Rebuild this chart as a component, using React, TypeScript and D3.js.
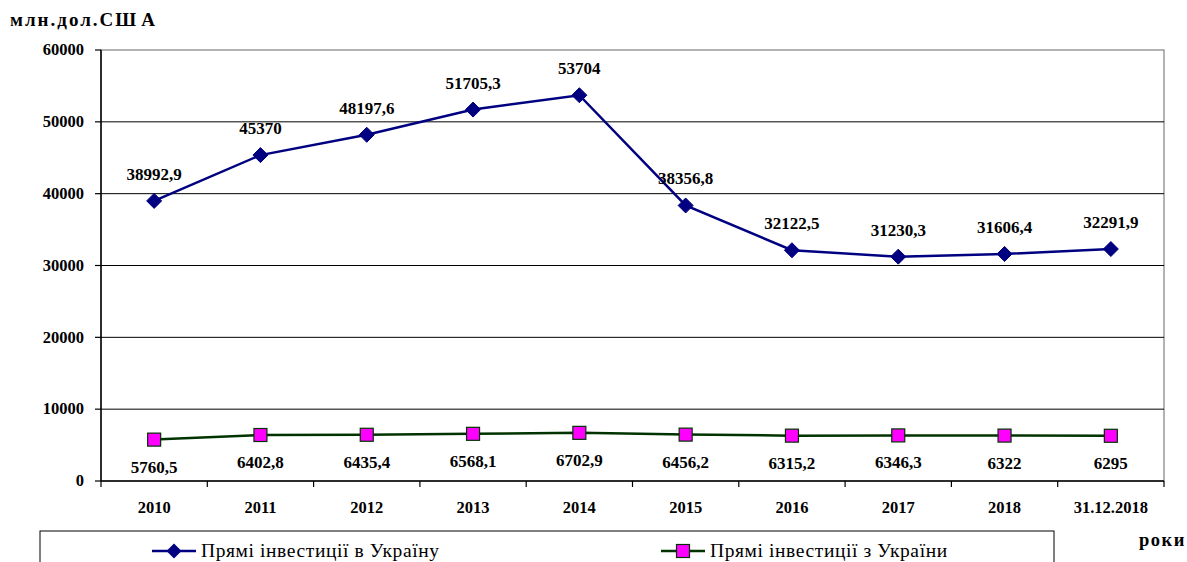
import React from "react";
import * as d3 from "d3";

const categories = ["2010", "2011", "2012", "2013", "2014", "2015", "2016", "2017", "2018", "31.12.2018"];
const intoUkraine = [38992.9, 45370, 48197.6, 51705.3, 53704, 38356.8, 32122.5, 31230.3, 31606.4, 32291.9];
const fromUkraine = [5760.5, 6402.8, 6435.4, 6568.1, 6702.9, 6456.2, 6315.2, 6346.3, 6322, 6295];
const intoLabels = ["38992,9", "45370", "48197,6", "51705,3", "53704", "38356,8", "32122,5", "31230,3", "31606,4", "32291,9"];
const fromLabels = ["5760,5", "6402,8", "6435,4", "6568,1", "6702,9", "6456,2", "6315,2", "6346,3", "6322", "6295"];
const yTicks = [0, 10000, 20000, 30000, 40000, 50000, 60000];
const seriesNames = ["Прямі інвестиції в Україну", "Прямі інвестиції з України"];

const W = 1187, H = 562;
const left = 101, right = 1164, top = 50, bottom = 481;
const font = "Liberation Serif";

export default function App() {
  const x = d3.scaleBand<string>().domain(categories).range([left, right]);
  const y = d3.scaleLinear().domain([0, 60000]).range([bottom, top]);
  const cx = (c: string) => (x(c) as number) + x.bandwidth() / 2;
  const line = d3.line<number>().x((_, i) => cx(categories[i])).y((d) => y(d));
  const diamond = (px: number, py: number, r: number) =>
    `M${px},${py - r}L${px + r},${py}L${px},${py + r}L${px - r},${py}Z`;
  const blue = "#000080";
  const green = "#003300";
  const mag = "#FF00FF";
  const boundaries = d3.range(categories.length + 1).map((i) => left + i * x.bandwidth());
  const ts = { fontFamily: font };

  return (
    <svg width={W} height={H} style={{ position: "absolute", left: 0, top: 0 }}>
      <rect x={0} y={0} width={W} height={H} fill="#fff" />
      <rect x={left} y={top} width={right - left} height={bottom - top} fill="none" stroke="#808080" strokeWidth={1.2} />
      {yTicks.filter((t) => t > 0 && t < 60000).map((t) => (
        <line key={t} x1={left} x2={right} y1={y(t)} y2={y(t)} stroke="#000" strokeWidth={1} />
      ))}
      <line x1={left} x2={left} y1={top} y2={bottom} stroke="#000" strokeWidth={1.5} />
      <line x1={left} x2={right} y1={bottom} y2={bottom} stroke="#000" strokeWidth={1.5} />
      {yTicks.map((t) => (
        <g key={t}>
          <line x1={left - 6} x2={left} y1={y(t)} y2={y(t)} stroke="#000" strokeWidth={1.2} />
          <text style={ts} x={left - 17} y={y(t)} dy="0.32em" textAnchor="end" fontSize={16.5} fontWeight="bold">{t}</text>
        </g>
      ))}
      {boundaries.map((b, i) => (
        <line key={i} x1={b} x2={b} y1={bottom} y2={bottom + 6} stroke="#000" strokeWidth={1.2} />
      ))}
      {categories.map((c) => (
        <text style={ts} key={c} x={cx(c)} y={513} textAnchor="middle" fontSize={16.5} fontWeight="bold">{c}</text>
      ))}
      <path d={line(intoUkraine) as string} fill="none" stroke={blue} strokeWidth={2.5} />
      <path d={line(fromUkraine) as string} fill="none" stroke={green} strokeWidth={2.5} />
      {intoUkraine.map((v, i) => (
        <path key={i} d={diamond(cx(categories[i]), y(v), 7.5)} fill={blue} stroke={blue} strokeWidth={1} />
      ))}
      {fromUkraine.map((v, i) => (
        <rect key={i} x={cx(categories[i]) - 6.5} y={y(v) - 6.5} width={13} height={13} fill={mag} stroke={green} strokeWidth={1.2} />
      ))}
      {intoUkraine.map((v, i) => (
        <text style={ts} key={i} x={cx(categories[i])} y={y(v) - 21} textAnchor="middle" fontSize={17} fontWeight="bold">{intoLabels[i]}</text>
      ))}
      {fromUkraine.map((v, i) => (
        <text style={ts} key={i} x={cx(categories[i])} y={y(v) + 33} textAnchor="middle" fontSize={17} fontWeight="bold">{fromLabels[i]}</text>
      ))}
      <text style={ts} x={10} y={26} fontSize={19} fontWeight="bold" letterSpacing={2}>
        <tspan>млн.дол.СШ</tspan><tspan dx={3}>А</tspan>
      </text>
      <text style={ts} x={1139} y={546} fontSize={18.5} fontWeight="bold" letterSpacing={1.5}>роки</text>
      <rect x={40} y={531} width={1014} height={40} fill="#fff" stroke="#000" strokeWidth={1} />
      <line x1={152} x2={196} y1={551} y2={551} stroke={blue} strokeWidth={2.5} />
      <path d={diamond(174, 551, 7.5)} fill={blue} />
      <text style={ts} x={201} y={557} fontSize={19.5} letterSpacing={0.6}>{seriesNames[0]}</text>
      <line x1={661} x2={705} y1={551} y2={551} stroke={green} strokeWidth={2.5} />
      <rect x={676.5} y={544.5} width={13} height={13} fill={mag} stroke={green} strokeWidth={1.2} />
      <text style={ts} x={710} y={557} fontSize={19.5} letterSpacing={0.6}>{seriesNames[1]}</text>
    </svg>
  );
}
